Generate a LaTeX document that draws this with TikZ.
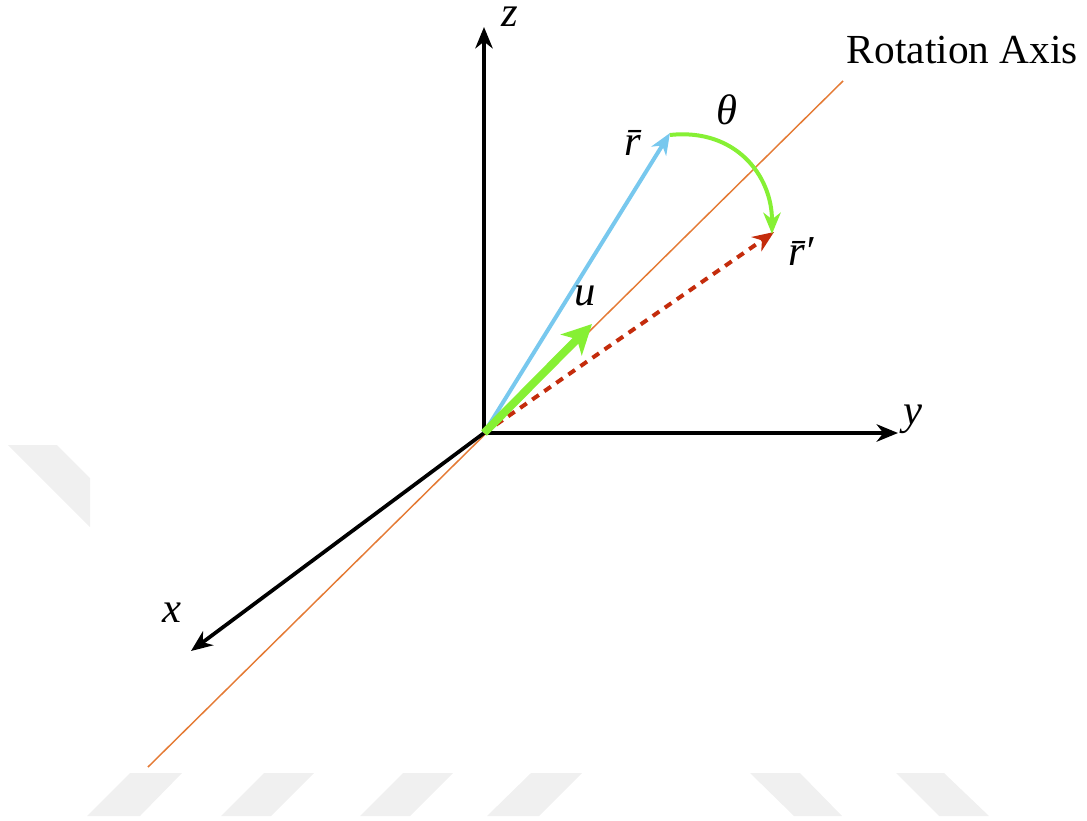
\documentclass[tikz,border=0pt]{standalone}
\usepackage{fontspec}
\setmainfont{Liberation Serif}
\usetikzlibrary{arrows.meta}
\definecolor{axisorange}{RGB}{228,122,52}
\definecolor{rblue}{RGB}{120,200,238}
\definecolor{ugreen}{RGB}{134,240,52}
\definecolor{rred}{RGB}{196,44,12}
\definecolor{wmgray}{RGB}{240,240,240}
\tikzset{
  tip/.style={-{Stealth[length=16pt,width=13pt,inset=5pt]}},
  axisline/.style={line width=2.8pt,tip},
  lbl/.style={font=\fontsize{32}{36}\selectfont\itshape, inner sep=0pt},
  wm/.style={fill=wmgray, draw=none},
}
\begin{document}
\begin{tikzpicture}[x=0.75pt,y=-0.75pt]
\useasboundingbox (0,0) rectangle (1087,820);
% watermark shapes
\fill[wm] (8,445) -- (57,445) -- (90,478) -- (90,527) -- cycle;
\fill[wm] (130,773) -- (182,773) -- (140,816) -- (87,816) -- cycle;
\fill[wm] (264,773) -- (314,773) -- (271,816) -- (221,816) -- cycle;
\fill[wm] (403,773) -- (453,773) -- (410,816) -- (360,816) -- cycle;
\fill[wm] (531,773) -- (582,773) -- (539,816) -- (487,816) -- cycle;
\fill[wm] (750,773) -- (800,773) -- (842,816) -- (794,816) -- cycle;
\fill[wm] (896,773) -- (944,773) -- (989,816) -- (939,816) -- cycle;
% coordinates
\coordinate (O) at (484,433);
\coordinate (ztip) at (484,27);
\coordinate (ytip) at (898,433);
\coordinate (xtip) at (191,651);
\coordinate (raS) at (148,767);
\coordinate (raE) at (843,81);
\coordinate (rtip) at (670,133);
\coordinate (utip) at (592,324);
\coordinate (rptip) at (774,232);
\coordinate (arcS) at (670,135);
\coordinate (arcE) at (772,234);
% rotation axis
\draw[axisorange, line width=1.1pt] (raS) -- (raE);
% axes
\draw[axisline] (O) -- (ztip);
\draw[axisline] (O) -- (ytip);
\draw[axisline] (O) -- (xtip);
% vectors
\draw[rblue, line width=3pt, tip] (O) -- (rtip);
\draw[rred, line width=3pt, dash pattern=on 6pt off 5pt, tip] (O) -- (rptip);
\draw[ugreen, line width=6pt, -{Stealth[length=22pt,width=22pt,inset=6pt]}] (O) -- (utip);
% arc
\draw[ugreen, line width=3pt, tip] (arcS) .. controls (735,128) and (772,175) .. (arcE);
% labels
\node[lbl, anchor=base, text height=0.46em, text depth=0pt] (zl) at (510,27) {z};
\node[lbl] (yl) at (913,419) {y};
\node[lbl] (xl) at (172,613) {x};
\node[lbl] (rl) at (633,143) {\=r};
\node[lbl] (rpl) at (801,252) {\=r′};
\node[lbl] (ul) at (585,296) {u};
\node[lbl] (tl) at (727,110) {θ};
\node[font=\fontsize{31}{35}\selectfont, inner sep=0pt, anchor=east] (ral) at (1078,50) {Rotation Axis};
\end{tikzpicture}
\end{document}
